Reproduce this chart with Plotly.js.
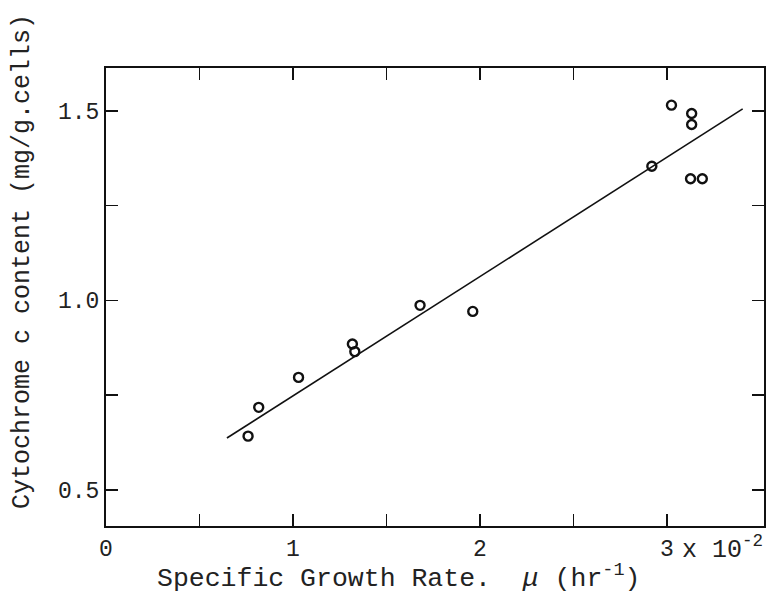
<!DOCTYPE html>
<html>
<head>
<meta charset="utf-8">
<script src="https://cdn.plot.ly/plotly-3.0.1.min.js"></script>
<style>html,body{margin:0;padding:0;background:#fff;}#chart{width:783px;height:607px;}</style>
</head>
<body>
<div id="chart"></div>
<script>
// Measured points: specific growth rate (x 10^-2 hr^-1) vs cytochrome c content (mg/g cells)
const growthRate = [0.76, 0.817, 1.03, 1.318, 1.331, 1.68, 1.962, 2.92, 3.025, 3.133, 3.133, 3.127, 3.19];
const cytochromeC = [0.642, 0.718, 0.797, 0.885, 0.865, 0.987, 0.971, 1.354, 1.515, 1.493, 1.464, 1.321, 1.321];

// Fitted regression line end points
const fitX = [0.647, 3.406];
const fitY = [0.637, 1.505];

// Tick values and labels
const xTickVals = [0, 1, 2, 3];
const xTickText = ['0', '1', '2', '3'];
const xMinorVals = [0.5, 1.5, 2.5];
const yTickVals = [0.5, 1.0, 1.5];
const yTickText = ['0.5', '1.0', '1.5'];
const yMinorVals = [0.75, 1.25];

const xTitle = 'Specific Growth Rate.  <i>\u03bc</i> (hr<sup>-1</sup>)';
const yTitle = 'Cytochrome c content (mg/g.cells)';
const xScaleNote = 'x 10<sup>-2</sup>';

const FONT = '"Liberation Mono", "DejaVu Sans Mono", monospace';

const traces = [
  {
    x: fitX, y: fitY, type: 'scatter', mode: 'lines',
    line: {color: '#111', width: 1.6},
    hoverinfo: 'skip', showlegend: false
  },
  {
    x: growthRate, y: cytochromeC, type: 'scatter', mode: 'markers',
    marker: {symbol: 'circle-open', size: 9, color: '#111', line: {color: '#111', width: 2.4}},
    showlegend: false
  }
];

const axisCommon = {
  showgrid: false, zeroline: false,
  showline: true, linecolor: '#111', linewidth: 2, mirror: 'ticks',
  ticks: 'inside', ticklen: 12, tickwidth: 1.6, tickcolor: '#111',
  tickmode: 'array',
  tickfont: {family: FONT, size: 23, color: '#222'}
};
const minorCommon = {
  tickmode: 'array', ticks: 'inside', ticklen: 12, tickwidth: 1.6, tickcolor: '#111', showgrid: false
};

const layout = {
  width: 783, height: 607,
  margin: {l: 106, r: 19, t: 68, b: 81},
  paper_bgcolor: '#fff', plot_bgcolor: '#fff',
  font: {family: FONT, color: '#222'},
  showlegend: false,
  xaxis: Object.assign({}, axisCommon, {
    range: [0, 3.52], tickvals: xTickVals, ticktext: xTickText,
    minor: Object.assign({}, minorCommon, {tickvals: xMinorVals})
  }),
  yaxis: Object.assign({}, axisCommon, {
    range: [0.405, 1.613], tickvals: yTickVals, ticktext: yTickText,
    minor: Object.assign({}, minorCommon, {tickvals: yMinorVals})
  }),
  annotations: [
    {
      text: xScaleNote, xref: 'x', yref: 'paper', x: 3.07, y: 0,
      xanchor: 'left', yanchor: 'top', yshift: -3, showarrow: false,
      font: {family: FONT, size: 25, color: '#222'}
    },
    {
      text: xTitle, xref: 'paper', yref: 'paper',
      x: (398 - 106) / 658, y: -(577 - 526) / 458,
      xanchor: 'center', yanchor: 'middle', showarrow: false,
      font: {family: FONT, size: 26.5, color: '#222'}
    },
    {
      text: yTitle, xref: 'paper', yref: 'paper', textangle: -90,
      x: -(106 - 22) / 658, y: (526 - 262) / 458,
      xanchor: 'center', yanchor: 'middle', showarrow: false,
      font: {family: FONT, size: 25, color: '#222'}
    }
  ]
};

Plotly.newPlot('chart', traces, layout, {displayModeBar: false, staticPlot: true});
</script>
</body>
</html>
